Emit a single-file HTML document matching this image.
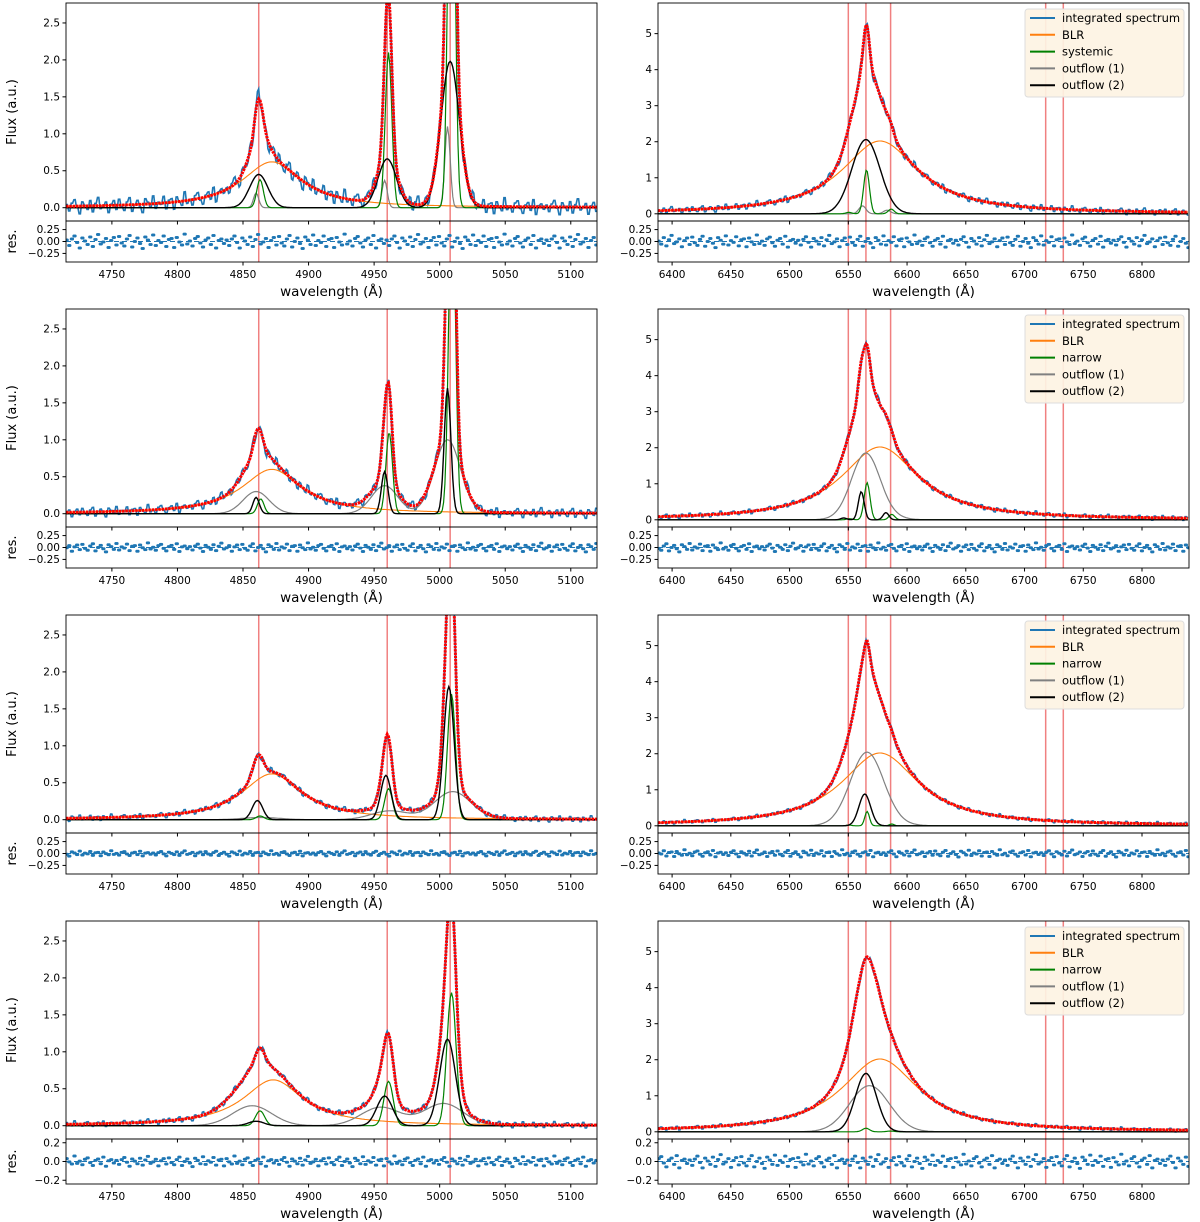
<!DOCTYPE html>
<html><head><meta charset="utf-8">
<style>
html,body{margin:0;padding:0;background:#fff;}
svg{display:block;font-family:"DejaVu Sans","Liberation Sans",sans-serif;}
</style></head>
<body>
<svg id="fig" width="1200" height="1222" viewBox="0 0 1200 1222" xmlns="http://www.w3.org/2000/svg"></svg>
<script>
// ---- data ----
const leftLines = [4862, 4960, 5008];
const rightLines = [6549, 6564, 6585];
const leftMarkers = [4862, 4960, 5008];
const rightMarkers = [6550, 6565, 6586, 6718, 6733];
const leftXTicks = [4750, 4800, 4850, 4900, 4950, 5000, 5050, 5100];
const rightXTicks = [6400, 6450, 6500, 6550, 6600, 6650, 6700, 6750, 6800];
const leftYTicks = [0, 0.5, 1.0, 1.5, 2.0, 2.5];
const rightYTicks = [0, 1, 2, 3, 4, 5];
// panel order: L1,R1,L2,R2,L3,R3,L4,R4
const blrCenter = [4872, 6577, 4872, 6577, 4872, 6577, 4873, 6577];
const blrAmp    = [0.62, 2.02, 0.60, 2.02, 0.62, 2.02, 0.62, 2.02];
const blrWidth  = [28, 40, 28, 40, 28, 40, 28, 40];
const greenAmp = [[0.38,2.1,6.3],[0.04,1.22,0.13],[0.2,1.1,4.5],[0.03,1.03,0.15],[0.05,0.42,1.7],[0.02,0.4,0.05],[0.2,0.6,1.8],[0,0.1,0.02]];
const greenShift = [1, 1.5, 1.5, 2, 1, 2, 1, 1];
const greenSigma = [2.5, 2.5, 2.5, 2.5, 3, 2, 3.5, 3];
const grayAmp = [[0.2,0.37,1.1],[0,0.22,0.1],[0.3,0.38,1.0],[0.05,1.82,0.05],[0.03,0.12,0.38],[0.05,2.0,0.05],[0.27,0.25,0.3],[0,1.28,0]];
const grayShift = [-2, -2, -2, 1, 2, 2, -5, 4];
const graySigma = [2, 3, 10, 12, 14, 14, 15, 17];
const blackAmp = [[0.45,0.66,1.98],[0,2.06,0],[0.22,0.57,1.7],[0.05,0.78,0.2],[0.26,0.6,1.8],[0,0.88,0],[0.06,0.4,1.17],[0,1.62,0]];
const blackShift = [0, 1, -2, -3, -1, 0, -2, 1];
const blackSigma = [7, 12, 2.5, 2.5, 4, 5, 6, 9];
const noiseScale = [0.08, 0.07, 0.05, 0.05, 0.03, 0.04, 0.03, 0.04];
const noise = [0.3,-0.8,0.5,1.1,-0.2,-1.3,0.7,0.1,-0.6,0.9,-1.0,0.4,1.4,-0.5,-0.1,0.6,-1.2,0.2,0.8,-0.7,1.0,-0.3,-0.9,0.5,1.2,-1.1,0.0,0.7,-0.4,-1.4,0.9,0.3,-0.6,1.3,-0.8,0.2,-0.2,1.1,-1.0,0.4,0.6,-1.2,0.8,-0.1,-0.7,1.5,-0.5,0.1,-0.9,0.6,1.0,-0.3,-1.1,0.3,0.7,-0.6,1.2,-1.3,0.2,0.5,-0.4];
const legendLabels1 = ["integrated spectrum","BLR","systemic","outflow (1)","outflow (2)"];
const legendLabels2 = ["integrated spectrum","BLR","narrow","outflow (1)","outflow (2)"];
const legendColors = ["#1f77b4","#ff7f0e","green","grey","black"];

// ---- layout ----
const NS = "http://www.w3.org/2000/svg";
const svg = document.getElementById('fig');
function el(tag, attrs, parent){const e=document.createElementNS(NS,tag);for(const k in attrs)e.setAttribute(k,attrs[k]);(parent||svg).appendChild(e);return e;}
function fmt(v,d){const s=Math.abs(v).toFixed(d);return (v<0?"\u2212":"")+s;}
const gauss=(x,a,c,s)=>a*Math.exp(-0.5*((x-c)/s)**2);
const lor=(x,a,c,g)=>a/(1+((x-c)/g)**2);

for(let p=0;p<8;p++){
  const col=p%2,row=Math.floor(p/2);
  const x0=col?658:66,x1=col?1189:597;
  const top=3+306*row, mb=top+218, rb=row===3?top+263:top+259;
  const xmin=col?6388:4715, xmax=col?6840:5120;
  const ymin=col?-0.2:-0.18, ymax=col?5.85:2.77;
  const rmax=row===3?0.24:0.43;
  const lines=col?rightLines:leftLines;
  const X=v=>x0+(v-xmin)/(xmax-xmin)*(x1-x0);
  const Y=v=>mb-(v-ymin)/(ymax-ymin)*(mb-top);
  const R=v=>(mb+rb)/2-v/rmax*(rb-mb)/2;
  const g=el('g',{});
  
  
  const cid='clip'+p, rid='rclip'+p;
  const defs=el('defs',{},g);
  const c1=el('clipPath',{id:cid},defs); el('rect',{x:x0,y:top,width:x1-x0,height:mb-top},c1);
  const c2=el('clipPath',{id:rid},defs); el('rect',{x:x0,y:mb,width:x1-x0,height:rb-mb},c2);
  const step=col?1.1:1.0;
  const xs=[];for(let x=xmin;x<=xmax;x+=step)xs.push(x);
  const comp=(ampArr,shift,sig)=>xs.map(x=>lines.reduce((s,c,i)=>s+gauss(x,ampArr[i],c+shift,sig),0));
  const blr=xs.map(x=>lor(x,blrAmp[p],blrCenter[p],blrWidth[p]));
  const gr=comp(greenAmp[p],greenShift[p],greenSigma[p]);
  const gy=comp(grayAmp[p],grayShift[p],graySigma[p]);
  const bk=comp(blackAmp[p],blackShift[p],blackSigma[p]);
  const tot=xs.map((x,i)=>blr[i]+gr[i]+gy[i]+bk[i]);
  const res=xs.map((x,i)=>noise[(Math.floor(i/2)+p*7)%noise.length]*noiseScale[p]);
  const dat=xs.map((x,i)=>tot[i]+res[i]*(1+0.15*tot[i]));
  const path=(arr,F)=>arr.map((v,i)=>(i?'L':'M')+X(xs[i]).toFixed(1)+' '+F(v).toFixed(1)).join('');
  const markers=col?rightMarkers:leftMarkers;
  markers.forEach(m=>{const l=el('line',{x1:X(m),x2:X(m),y1:top,y2:rb,stroke:'#f08080','stroke-width':1.5},g);
    });
  const mg=el('g',{'clip-path':'url(#'+cid+')'},g);
  const d=el('path',{d:path(dat,Y),fill:'none',stroke:'#1f77b4','stroke-width':1.6},mg);
  
  const b=el('path',{d:path(blr,Y),fill:'none',stroke:'#ff7f0e','stroke-width':1.1},mg);
  
  const gg=el('path',{d:path(gy,Y),fill:'none',stroke:'grey','stroke-width':1.2},mg);
  
  const gn=el('path',{d:path(gr,Y),fill:'none',stroke:'green','stroke-width':1.2},mg);
  
  const bb=el('path',{d:path(bk,Y),fill:'none',stroke:'black','stroke-width':1.4},mg);
  
  const t=el('path',{d:path(tot,Y),fill:'none',stroke:'red','stroke-width':3,'stroke-dasharray':'2.5 0.8'},mg);
  
  const rg=el('g',{'clip-path':'url(#'+rid+')'},g);
  el('line',{x1:x0,x2:x1,y1:R(0),y2:R(0),stroke:'#1f77b4','stroke-width':1,'stroke-dasharray':'5 3'},rg);
  res.forEach((v,i)=>{const c=el('circle',{cx:X(xs[i]),cy:R(v*1.3),r:1.5,fill:'#1f77b4'},rg);
    });
  el('rect',{x:x0,y:top,width:x1-x0,height:mb-top,fill:'none',stroke:'#000','stroke-width':0.9},g);
  el('rect',{x:x0,y:mb,width:x1-x0,height:rb-mb,fill:'none',stroke:'#000','stroke-width':0.9},g);
  (col?rightXTicks:leftXTicks).forEach(v=>{const x=X(v);
    el('line',{x1:x,x2:x,y1:mb,y2:mb+3.5,stroke:'#000'},g);
    el('line',{x1:x,x2:x,y1:rb,y2:rb+3.5,stroke:'#000'},g);
    const tx=el('text',{x:x,y:rb+16,'font-size':10.5,'text-anchor':'middle'},g);tx.textContent=v;
    });
  (col?rightYTicks:leftYTicks).forEach(v=>{const y=Y(v);
    el('line',{x1:x0-3.5,x2:x0,y1:y,y2:y,stroke:'#000'},g);
    const tx=el('text',{x:x0-6,y:y+3.5,'font-size':10.5,'text-anchor':'end'},g);tx.textContent=col?v:v.toFixed(1);
    });
  const rt=row===3?[0.2,0,-0.2]:[0.25,0,-0.25];
  rt.forEach(v=>{const y=R(v);
    el('line',{x1:x0-3.5,x2:x0,y1:y,y2:y,stroke:'#000'},g);
    const tx=el('text',{x:x0-6,y:y+3.5,'font-size':10.5,'text-anchor':'end'},g);tx.textContent=fmt(v,row===3?1:2);
    });
  const xl=el('text',{x:(x0+x1)/2,y:rb+34,'font-size':13.5,'text-anchor':'middle'},g);
  xl.textContent='wavelength (\u00C5)';
  
  if(!col){
    const yl=el('text',{x:0,y:0,'font-size':13,'text-anchor':'middle',transform:'translate(16,'+((top+mb)/2)+') rotate(-90)'},g);
    yl.textContent='Flux (a.u.)';
    
    const rl=el('text',{x:0,y:0,'font-size':13,'text-anchor':'middle',transform:'translate(16,'+((mb+rb)/2)+') rotate(-90)'},g);
    rl.textContent='res.';
    
  } else {
    const lg=el('g',{},g);
    
    el('rect',{x:1025,y:top+6,width:159,height:88,rx:3,fill:'#fdf3e3','fill-opacity':0.92,stroke:'#ddd'},lg);
    const labs=row===0?legendLabels1:legendLabels2;
    labs.forEach((l,i)=>{const y=top+15+i*16.8;
      el('line',{x1:1030,x2:1055,y1:y,y2:y,stroke:legendColors[i],'stroke-width':2},lg);
      const tx=el('text',{x:1062,y:y+4,'font-size':11.5},lg);tx.textContent=l;
      });
  }
}
</script>
</body></html>
